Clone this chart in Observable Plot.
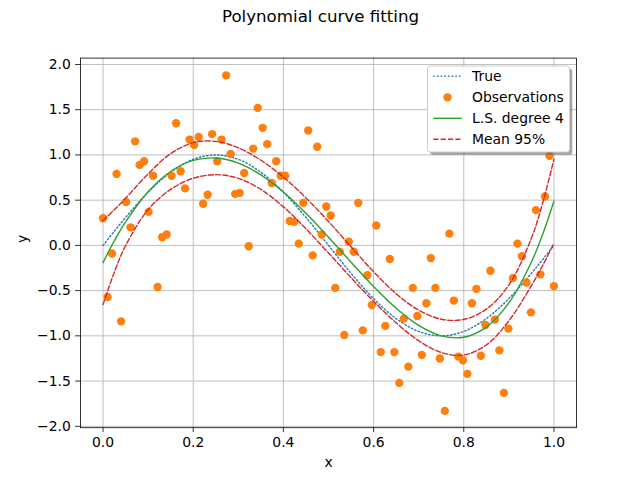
<!DOCTYPE html>
<html><head><meta charset="utf-8">
<script src="https://cdn.jsdelivr.net/npm/d3@7"></script>
<script src="https://cdn.jsdelivr.net/npm/@observablehq/plot@0.6"></script>
<style>
body{margin:0;background:#fff}
#wrap{position:relative;width:640px;height:480px}
#legend{position:absolute;left:0;top:0;pointer-events:none}
</style>
</head><body><div id="wrap"></div>
<script>
// Observations (x evenly spaced from 0 to 1, 100 points)
const obsX = [
  0, .010, .020, .030, .040, .051, .061, .071, .081, .091,
  .101, .111, .121, .131, .141, .152, .162, .172, .182, .192,
  .202, .212, .222, .232, .242, .253, .263, .273, .283, .293,
  .303, .313, .323, .333, .343, .354, .364, .374, .384, .394,
  .404, .414, .424, .434, .444, .455, .465, .475, .485, .495,
  .505, .515, .525, .535, .545, .556, .566, .576, .586, .596,
  .606, .616, .626, .636, .646, .657, .667, .677, .687, .697,
  .707, .717, .727, .737, .747, .758, .768, .778, .788, .798,
  .808, .818, .828, .838, .848, .859, .869, .879, .889, .899,
  .909, .919, .929, .939, .949, .960, .970, .980, .990, 1
];
const obsY = [
  0.30, -0.57, -0.09, 0.79, -0.84, 0.48, 0.20, 1.15, 0.89, 0.93,
  0.37, 0.77, -0.46, 0.09, 0.12, 0.77, 1.35, 0.82, 0.63, 1.17,
  1.11, 1.20, 0.46, 0.56, 1.23, 0.93, 1.17, 1.88, 1.01, 0.57,
  0.58, 0.80, -0.01, 1.07, 1.52, 1.30, 1.12, 0.69, 0.93, 0.77,
  0.77, 0.27, 0.26, 0.02, 0.47, 1.27, -0.11, 1.09, 0.12, 0.43,
  0.33, -0.47, -0.07, -0.99, 0.04, -0.07, 0.47, -0.94, -0.33, -0.66,
  0.22, -1.18, -0.89, -0.15, -1.18, -1.52, -0.81, -1.34, -0.47, -0.78,
  -1.21, -0.64, -0.14, -0.47, -1.25, -1.83, 0.13, -0.61, -1.23, -1.27,
  -1.42, -0.64, -0.48, -1.22, -0.88, -0.28, -0.82, -1.16, -1.63, -0.92,
  -0.36, 0.02, -0.12, -0.41, -0.74, 0.39, -0.32, 0.54, 0.99, -0.45
];
// Curves
const curveX = [0, 0.025, 0.05, 0.1, 0.15, 0.2, 0.25, 0.3, 0.35, 0.4, 0.45, 0.5, 0.55, 0.6, 0.65, 0.7, 0.75, 0.8, 0.85, 0.9, 0.95, 0.975, 1];
const trueY  = [0, 0.156, 0.309, 0.588, 0.809, 0.951, 1.0, 0.951, 0.809, 0.588, 0.309, 0, -0.309, -0.588, -0.809, -0.951, -1.0, -0.951, -0.809, -0.588, -0.309, -0.156, 0];
const lsY    = [-0.19, 0.049, 0.259, 0.593, 0.817, 0.939, 0.966, 0.91, 0.78, 0.59, 0.354, 0.09, -0.186, -0.455, -0.695, -0.885, -1.0, -1.015, -0.903, -0.636, -0.183, 0.124, 0.488];
const upperY = [0.275, 0.394, 0.521, 0.791, 1.015, 1.136, 1.150, 1.079, 0.941, 0.754, 0.525, 0.264, -0.015, -0.291, -0.534, -0.716, -0.816, -0.818, -0.705, -0.438, 0.079, 0.469, 0.953];
const lowerY = [-0.655, -0.296, -0.003, 0.395, 0.619, 0.742, 0.782, 0.741, 0.619, 0.426, 0.183, -0.084, -0.357, -0.619, -0.856, -1.054, -1.184, -1.212, -1.101, -0.834, -0.445, -0.221, 0.023];
const xTicks = [0, 0.2, 0.4, 0.6, 0.8, 1.0];
const yTicks = [-2.0, -1.5, -1.0, -0.5, 0, 0.5, 1.0, 1.5, 2.0];
const legendLabels = ["True", "Observations", "L.S. degree 4", "Mean 95%"];
const titleText = "Polynomial curve fitting";

const obs = obsX.map((x, i) => ({x, y: obsY[i]}));
const mk = ys => curveX.map((x, i) => ({x, y: ys[i]}));

const FONT = "'DejaVu Sans', sans-serif";
const fmt = d3.format(".1f");

const chart = Plot.plot({
  width: 640, height: 480,
  marginLeft: 80, marginRight: 64, marginTop: 57.6, marginBottom: 52.8,
  style: {fontFamily: FONT, fontSize: "13.9px", color: "black", background: "white", overflow: "visible"},
  x: {domain: [-0.05, 1.05], label: null},
  y: {domain: [-2.0155, 2.0705], label: null},
  marks: [
    Plot.gridX(xTicks, {stroke: "#b0b0b0", strokeOpacity: 1, strokeWidth: 0.8}),
    Plot.gridY(yTicks, {stroke: "#b0b0b0", strokeOpacity: 1, strokeWidth: 0.8}),
    Plot.line(mk(trueY), {x: "x", y: "y", stroke: "#1f77b4", strokeWidth: 1.39, strokeDasharray: "1.39,2.29", curve: "catmull-rom"}),
    Plot.dot(obs, {x: "x", y: "y", r: 4.17, fill: "#ff7f0e", stroke: "none"}),
    Plot.line(mk(lsY), {x: "x", y: "y", stroke: "#2ca02c", strokeWidth: 1.39, curve: "catmull-rom"}),
    Plot.line(mk(upperY), {x: "x", y: "y", stroke: "#d62728", strokeWidth: 1.39, strokeDasharray: "5.14,2.22", curve: "catmull-rom"}),
    Plot.line(mk(lowerY), {x: "x", y: "y", stroke: "#d62728", strokeWidth: 1.39, strokeDasharray: "5.14,2.22", curve: "catmull-rom"}),
    Plot.frame({stroke: "black", strokeWidth: 0.8}),
    Plot.axisX(xTicks, {tickSize: 4.86, tickPadding: 4.86, tickFormat: fmt, label: null, stroke: "black", strokeWidth: 0.8}),
    Plot.axisY(yTicks, {tickSize: 4.86, tickPadding: 4.86, tickFormat: fmt, label: null, stroke: "black", strokeWidth: 0.8}),
    Plot.text([titleText], {text: d => d, frameAnchor: "top", dx: -8, dy: -48, lineAnchor: "top", fontSize: 16.67, fill: "black"}),
    Plot.text(["x"], {text: d => d, frameAnchor: "bottom", dy: 35, lineAnchor: "middle", fill: "black"}),
    Plot.text(["y"], {text: d => d, frameAnchor: "left", dx: -58, rotate: -90, lineAnchor: "middle", fill: "black"})
  ]
});
const wrap = document.getElementById("wrap");
wrap.append(chart);

// Legend overlay (matplotlib-style box with shadow)
const L = {x: 427.5, y: 66, w: 142, h: 86};
const rows = [76.3, 97.3, 118.3, 139.3];
const hx0 = 433.3, hx1 = 461.7, tx = 472;
let s = `<svg id="legend" width="640" height="480" xmlns="http://www.w3.org/2000/svg" font-family="DejaVu Sans, sans-serif" font-size="13.9px">`;
s += `<rect x="${L.x + 2.78}" y="${L.y + 2.78}" width="${L.w}" height="${L.h}" rx="2.8" fill="#4d4d4d" fill-opacity="0.5"/>`;
s += `<rect x="${L.x}" y="${L.y}" width="${L.w}" height="${L.h}" rx="2.8" fill="white" stroke="#cccccc" stroke-width="1"/>`;
s += `<line x1="${hx0}" x2="${hx1}" y1="${rows[0]}" y2="${rows[0]}" stroke="#1f77b4" stroke-width="1.39" stroke-dasharray="1.39,2.29"/>`;
s += `<circle cx="${(hx0 + hx1) / 2}" cy="${rows[1]}" r="4.17" fill="#ff7f0e"/>`;
s += `<line x1="${hx0}" x2="${hx1}" y1="${rows[2]}" y2="${rows[2]}" stroke="#2ca02c" stroke-width="1.39"/>`;
s += `<line x1="${hx0}" x2="${hx1}" y1="${rows[3]}" y2="${rows[3]}" stroke="#d62728" stroke-width="1.39" stroke-dasharray="5.14,2.22"/>`;
legendLabels.forEach((t, i) => { s += `<text x="${tx}" y="${rows[i] + 5}" fill="black">${t}</text>`; });
s += `</svg>`;
wrap.insertAdjacentHTML("beforeend", s);
</script></body></html>
